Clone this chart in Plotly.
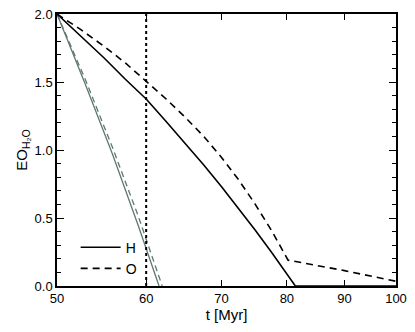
import plotly.graph_objects as go

# black: H (solid) and O (dashed)
t_h = [50, 52.5, 55, 57.5, 60, 62.5, 65, 67.5, 70, 72.5, 75, 77.5, 80, 81.4, 90, 100]
eo_h = [2.0, 1.84, 1.68, 1.52, 1.375, 1.21, 1.05, 0.89, 0.73, 0.57, 0.41, 0.25, 0.09, 0.0, 0.0, 0.0]
t_o = [50, 52.5, 55, 57.5, 60, 62.5, 65, 67.5, 70, 72.5, 75, 77.5, 80.2, 90, 100]
eo_o = [2.0, 1.885, 1.765, 1.64, 1.505, 1.375, 1.24, 1.10, 0.945, 0.78, 0.60, 0.41, 0.19, 0.113, 0.035]

# gray: steeper case
t_h2 = [50, 53, 56, 59, 61.6]
eo_h2 = [2.0, 1.48, 0.97, 0.45, 0.0]
t_o2 = [50, 53, 56, 59, 62.0]
eo_o2 = [2.0, 1.515, 1.02, 0.52, 0.0]

t_mark = 60
x_ticks = [50, 60, 70, 80, 90, 100]
GRAY = "#5f7773"
FONT = "Liberation Sans, Arial, sans-serif"

fig = go.Figure()
fig.add_trace(go.Scatter(x=t_h2, y=eo_h2, mode="lines", showlegend=False,
                         line=dict(color=GRAY, width=1.3)))
fig.add_trace(go.Scatter(x=t_o2, y=eo_o2, mode="lines", showlegend=False,
                         line=dict(color=GRAY, width=1.3, dash="6px,4px")))
fig.add_trace(go.Scatter(x=[t_mark, t_mark], y=[0, 2], mode="lines", showlegend=False,
                         line=dict(color="black", width=2, dash="dot")))
fig.add_trace(go.Scatter(x=t_h, y=eo_h, mode="lines", name="H",
                         line=dict(color="black", width=1.6)))
fig.add_trace(go.Scatter(x=t_o, y=eo_o, mode="lines", name="O",
                         line=dict(color="black", width=1.6, dash="7px,5px")))

axis = dict(showgrid=False, zeroline=False, showline=True, linecolor="black",
            linewidth=1.5, mirror="ticks", ticks="inside", tickcolor="black",
            tickfont=dict(size=13, color="black"), automargin=False,
            ticklabeloverflow="allow")
# page body has an 8px margin, so the figure is a bit smaller than the window
fig.update_layout(
    width=407,
    height=324,
    autosize=False,
    margin=dict(l=49, r=19, t=6, b=46),
    plot_bgcolor="white",
    paper_bgcolor="white",
    font=dict(family=FONT, color="black"),
    xaxis=dict(axis, type="log", range=[1.69897, 2.0], tickvals=x_ticks,
               ticktext=[str(v) for v in x_ticks], ticklen=6,
               title=dict(text="t [Myr]", font=dict(size=15), standoff=2)),
    yaxis=dict(axis, range=[0, 2.0], tickvals=[0, 0.5, 1.0, 1.5, 2.0],
               ticktext=["0.0", "0.5", "1.0", "1.5", "2.0"], ticklen=7,
               minor=dict(dtick=0.1, ticks="inside", ticklen=4, tickcolor="black"),
               title=dict(text="EO<sub>H₂O</sub>", font=dict(size=15), standoff=3)),
    legend=dict(x=0.055, y=0.2, xanchor="left", yanchor="top",
                bgcolor="rgba(0,0,0,0)", font=dict(size=14),
                tracegroupgap=0, itemwidth=40),
)
fig.write_html("out.html")
